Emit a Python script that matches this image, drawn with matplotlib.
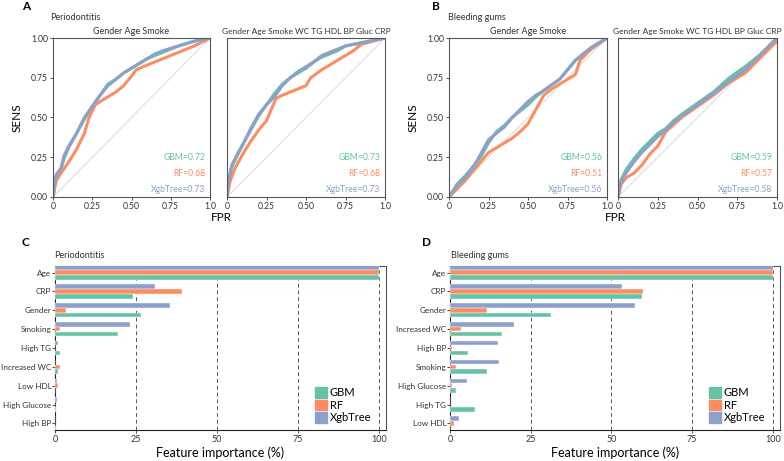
import matplotlib
matplotlib.use("Agg")
import matplotlib.pyplot as plt
from matplotlib.patches import Patch

plt.rcParams['font.family'] = ['Lato', 'DejaVu Sans']

GREEN = '#66c2a5'
ORANGE = '#fc8d62'
BLUE = '#8da0cb'

# ---- ROC data ----
# A1: Periodontitis, Gender Age Smoke
a1_gbm_fpr = [0, 0.01, 0.02, 0.05, 0.07, 0.1, 0.15, 0.2, 0.25, 0.3, 0.35, 0.4, 0.45, 0.5, 0.55, 0.6, 0.65, 0.7, 0.8, 0.9, 1]
a1_gbm_tpr = [0, 0.07, 0.13, 0.17, 0.24, 0.31, 0.4, 0.49, 0.57, 0.64, 0.71, 0.74, 0.78, 0.81, 0.84, 0.87, 0.89, 0.91, 0.95, 0.98, 1]
a1_rf_fpr = [0, 0.02, 0.05, 0.1, 0.15, 0.2, 0.23, 0.27, 0.3, 0.35, 0.4, 0.45, 0.5, 0.53, 0.6, 0.7, 0.8, 0.9, 1]
a1_rf_tpr = [0, 0.1, 0.15, 0.22, 0.3, 0.4, 0.5, 0.58, 0.6, 0.63, 0.66, 0.7, 0.76, 0.8, 0.83, 0.87, 0.91, 0.95, 1]
a1_xgb_fpr = [0, 0.01, 0.02, 0.05, 0.07, 0.1, 0.15, 0.2, 0.25, 0.3, 0.35, 0.4, 0.45, 0.5, 0.55, 0.6, 0.65, 0.7, 0.8, 0.9, 1]
a1_xgb_tpr = [0, 0.08, 0.14, 0.18, 0.26, 0.32, 0.4, 0.5, 0.57, 0.64, 0.7, 0.74, 0.78, 0.81, 0.84, 0.87, 0.9, 0.92, 0.95, 0.98, 1]

# A2: Periodontitis, full model
a2_gbm_fpr = [0, 0.01, 0.03, 0.06, 0.1, 0.15, 0.2, 0.25, 0.3, 0.35, 0.4, 0.45, 0.5, 0.55, 0.6, 0.7, 0.75, 0.85, 1]
a2_gbm_tpr = [0, 0.1, 0.19, 0.25, 0.33, 0.42, 0.51, 0.58, 0.65, 0.71, 0.75, 0.79, 0.82, 0.85, 0.88, 0.92, 0.95, 0.97, 1]
a2_rf_fpr = [0, 0.02, 0.05, 0.1, 0.15, 0.2, 0.25, 0.28, 0.31, 0.35, 0.4, 0.45, 0.5, 0.53, 0.6, 0.7, 0.8, 0.85, 1]
a2_rf_tpr = [0, 0.1, 0.18, 0.27, 0.35, 0.42, 0.48, 0.55, 0.62, 0.64, 0.66, 0.68, 0.7, 0.75, 0.8, 0.86, 0.92, 0.96, 1]
a2_xgb_fpr = [0, 0.01, 0.03, 0.06, 0.1, 0.15, 0.2, 0.25, 0.3, 0.35, 0.4, 0.45, 0.5, 0.55, 0.6, 0.7, 0.75, 0.85, 1]
a2_xgb_tpr = [0, 0.1, 0.2, 0.26, 0.33, 0.43, 0.52, 0.58, 0.63, 0.7, 0.75, 0.78, 0.81, 0.85, 0.89, 0.93, 0.95, 0.97, 1]

# B1: Bleeding gums, Gender Age Smoke
b1_gbm_fpr = [0, 0.05, 0.1, 0.15, 0.2, 0.25, 0.3, 0.35, 0.4, 0.45, 0.5, 0.55, 0.6, 0.7, 0.75, 0.8, 0.9, 1]
b1_gbm_tpr = [0, 0.08, 0.13, 0.19, 0.25, 0.34, 0.41, 0.45, 0.5, 0.54, 0.58, 0.63, 0.67, 0.74, 0.8, 0.86, 0.94, 1]
b1_rf_fpr = [0, 0.05, 0.1, 0.15, 0.2, 0.25, 0.3, 0.35, 0.4, 0.45, 0.5, 0.55, 0.6, 0.65, 0.7, 0.75, 0.8, 0.83, 0.9, 1]
b1_rf_tpr = [0, 0.05, 0.1, 0.16, 0.22, 0.28, 0.31, 0.34, 0.37, 0.41, 0.46, 0.55, 0.64, 0.68, 0.71, 0.74, 0.77, 0.86, 0.93, 1]
b1_xgb_fpr = [0, 0.05, 0.1, 0.15, 0.2, 0.25, 0.3, 0.35, 0.4, 0.45, 0.5, 0.55, 0.6, 0.7, 0.75, 0.8, 0.9, 1]
b1_xgb_tpr = [0, 0.07, 0.12, 0.18, 0.27, 0.36, 0.4, 0.44, 0.5, 0.55, 0.6, 0.64, 0.67, 0.74, 0.8, 0.86, 0.94, 1]

# B2: Bleeding gums, full model
b2_gbm_fpr = [0, 0.02, 0.05, 0.1, 0.15, 0.2, 0.25, 0.3, 0.35, 0.4, 0.5, 0.6, 0.7, 0.8, 0.9, 1]
b2_gbm_tpr = [0, 0.11, 0.17, 0.24, 0.3, 0.35, 0.4, 0.43, 0.48, 0.52, 0.59, 0.66, 0.75, 0.82, 0.9, 1]
b2_rf_fpr = [0, 0.02, 0.05, 0.1, 0.15, 0.2, 0.25, 0.3, 0.4, 0.5, 0.6, 0.7, 0.8, 0.9, 1]
b2_rf_tpr = [0, 0.08, 0.12, 0.15, 0.2, 0.27, 0.32, 0.41, 0.5, 0.57, 0.64, 0.72, 0.78, 0.88, 0.98]
b2_xgb_fpr = [0, 0.02, 0.05, 0.1, 0.15, 0.2, 0.25, 0.3, 0.35, 0.4, 0.5, 0.6, 0.7, 0.8, 0.9, 1]
b2_xgb_tpr = [0, 0.1, 0.15, 0.22, 0.28, 0.33, 0.38, 0.42, 0.47, 0.51, 0.58, 0.65, 0.73, 0.8, 0.9, 1]

a1_auc = ['GBM=0.72', 'RF=0.68', 'XgbTree=0.73']
a2_auc = ['GBM=0.73', 'RF=0.68', 'XgbTree=0.73']
b1_auc = ['GBM=0.56', 'RF=0.51', 'XgbTree=0.56']
b2_auc = ['GBM=0.59', 'RF=0.57', 'XgbTree=0.58']

# ---- Feature importance data ----
c_features = ['Age', 'CRP', 'Gender', 'Smoking', 'High TG', 'Increased WC', 'Low HDL', 'High Glucose', 'High BP']
c_gbm = [100, 24.1, 26.6, 19.6, 1.6, 0.8, 0, 0.4, 0.3]
c_rf = [100, 39.2, 3.4, 1.4, 0, 1.5, 1.0, 0, 0]
c_xgb = [100, 31.0, 35.5, 23.2, 0.9, 0, 0.7, 0.7, 0]

d_features = ['Age', 'CRP', 'Gender', 'Increased WC', 'High BP', 'Smoking', 'High Glucose', 'High TG', 'Low HDL']
d_gbm = [100, 59.4, 31.4, 16.1, 5.5, 11.6, 1.9, 7.8, 0]
d_rf = [100, 59.8, 11.5, 3.4, 0.6, 1.9, 0.7, 0, 1.3]
d_xgb = [100, 53.2, 57.4, 19.8, 14.8, 15.2, 5.3, 0, 2.8]

W, H = 784, 461
fig = plt.figure(figsize=(W / 100, H / 100), dpi=100)


def px_axes(left, top, right, bottom):
    return fig.add_axes([left / W, (H - bottom) / H, (right - left) / W, (bottom - top) / H])


def roc_panel(ax, curves, aucs, title, show_y):
    ax.plot([0, 1], [0, 1], color='#d9d9d9', lw=0.7, zorder=1)
    for (f, t), c in zip(curves, [GREEN, ORANGE, BLUE]):
        ax.plot(f, t, color=c, lw=2.2, solid_capstyle='round', zorder=2)
    ax.set_xlim(0, 1)
    ax.set_ylim(0, 1)
    ax.set_xticks([0, 0.25, 0.5, 0.75, 1.0])
    ax.set_xticklabels(['0', '0.25', '0.50', '0.75', '1.0'])
    ax.set_yticks([0, 0.25, 0.5, 0.75, 1.0])
    if show_y:
        ax.set_yticklabels(['0.00', '0.25', '0.50', '0.75', '1.00'])
    else:
        ax.set_yticks([])
    ax.tick_params(labelsize=6.2, length=2, width=0.6, pad=1.5, colors='#333333')
    for s in ax.spines.values():
        s.set_color('#555555')
        s.set_linewidth(0.8)
    for txt, c, y in zip(aucs, [GREEN, ORANGE, BLUE], [0.25, 0.15, 0.05]):
        ax.text(0.97, y, txt, color=c, fontsize=6.2, ha='right', va='center', transform=ax.transData)
    ax.set_title(title, fontsize=6.0 if len(title) > 20 else 6.5, pad=3, color='#333333')


a1 = px_axes(53, 38, 210, 197)
roc_panel(a1, [(a1_gbm_fpr, a1_gbm_tpr), (a1_rf_fpr, a1_rf_tpr), (a1_xgb_fpr, a1_xgb_tpr)],
          a1_auc, 'Gender Age Smoke', True)
a2 = px_axes(227, 38, 385, 197)
roc_panel(a2, [(a2_gbm_fpr, a2_gbm_tpr), (a2_rf_fpr, a2_rf_tpr), (a2_xgb_fpr, a2_xgb_tpr)],
          a2_auc, 'Gender Age Smoke WC TG HDL BP Gluc CRP', False)
b1 = px_axes(449, 38, 607, 197)
roc_panel(b1, [(b1_gbm_fpr, b1_gbm_tpr), (b1_rf_fpr, b1_rf_tpr), (b1_xgb_fpr, b1_xgb_tpr)],
          b1_auc, 'Gender Age Smoke', True)
b2 = px_axes(618, 38, 777, 197)
roc_panel(b2, [(b2_gbm_fpr, b2_gbm_tpr), (b2_rf_fpr, b2_rf_tpr), (b2_xgb_fpr, b2_xgb_tpr)],
          b2_auc, 'Gender Age Smoke WC TG HDL BP Gluc CRP', False)

a1.set_ylabel('SENS', fontsize=8.5, labelpad=6)
b1.set_ylabel('SENS', fontsize=8.5, labelpad=6)


def bar_panel(ax, feats, gbm, rf, xgb):
    pos = list(range(len(feats)))
    ax.barh([p - 0.26 for p in pos], xgb, height=0.24, color=BLUE, edgecolor='white', lw=0.3, zorder=3)
    ax.barh(pos, rf, height=0.24, color=ORANGE, edgecolor='white', lw=0.3, zorder=3)
    ax.barh([p + 0.26 for p in pos], gbm, height=0.24, color=GREEN, edgecolor='white', lw=0.3, zorder=3)
    ax.set_yticks(pos)
    ax.set_yticklabels(feats)
    ax.set_ylim(len(feats) - 0.65, -0.35)
    ax.set_xlim(0, 102.2)
    ax.set_xticks([0, 25, 50, 75, 100])
    for v in [25, 50, 75, 100]:
        ax.axvline(v, color='#555555', lw=0.7, ls=(0, (4, 3)), zorder=1)
    ax.tick_params(axis='x', labelsize=6.5, length=2, width=0.6, pad=1.5, colors='#333333')
    ax.tick_params(axis='y', labelsize=5.9, length=2, width=0.6, pad=0.6, colors='#333333')
    for s in ax.spines.values():
        s.set_color('#555555')
        s.set_linewidth(0.8)
    ax.spines['left'].set_color('#222222')
    ax.spines['bottom'].set_color('#222222')
    ax.set_xlabel('Feature importance (%)', fontsize=9, labelpad=2)
    handles = [Patch(color=GREEN, label='GBM'), Patch(color=ORANGE, label='RF'), Patch(color=BLUE, label='XgbTree')]
    ax.legend(handles=handles, loc='lower right', bbox_to_anchor=(0.985, -0.02), frameon=False, fontsize=8,
              handlelength=1.1, handleheight=1.1, handletextpad=0.2, labelspacing=0.12)


c = px_axes(55, 266, 386, 430)
bar_panel(c, c_features, c_gbm, c_rf, c_xgb)
d = px_axes(450, 266, 780, 430)
bar_panel(d, d_features, d_gbm, d_rf, d_xgb)

# panel letters and headings
for x, y, s in [(22, 6, 'A'), (432, 6, 'B'), (22, 242, 'C'), (422, 242, 'D')]:
    fig.text(x / W, 1 - y / H, s, fontsize=8.5, fontweight='bold', va='center', ha='left')
for x, y, s in [(50, 18, 'Periodontitis'), (448, 18, 'Bleeding gums'),
                (54, 256, 'Periodontitis'), (451, 256, 'Bleeding gums')]:
    fig.text(x / W, 1 - y / H, s, fontsize=6.5, va='center', ha='left', color='#333333')
for x in [221, 615]:
    fig.text(x / W, 1 - 217 / H, 'FPR', fontsize=8.5, va='center', ha='center')

fig.savefig('out.png', dpi=100)
